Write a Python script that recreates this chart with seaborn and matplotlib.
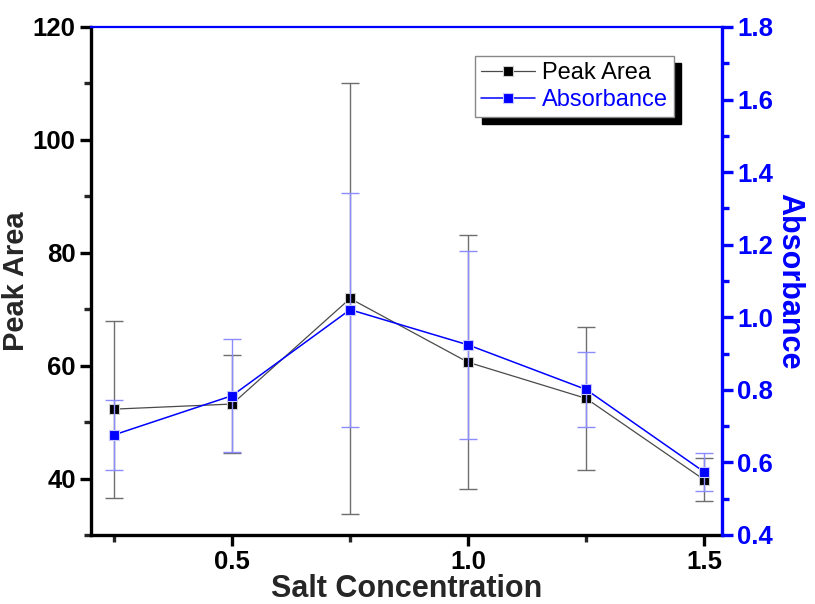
import matplotlib
matplotlib.use("Agg")
import matplotlib.pyplot as plt
import seaborn as sns
import pandas as pd
from matplotlib.ticker import MultipleLocator, FormatStrFormatter

# Salt concentration series
conc = [0.25, 0.5, 0.75, 1.0, 1.25, 1.5]
peak_area = [52.3, 53.2, 71.9, 60.6, 54.2, 39.8]
peak_area_err = [15.7, 8.7, 38.1, 22.5, 12.6, 3.8]
absorbance = [0.676, 0.784, 1.021, 0.924, 0.801, 0.574]
absorbance_err = [0.097, 0.156, 0.322, 0.260, 0.103, 0.053]

sns.set_style("ticks")
plt.rcParams["font.family"] = ["Liberation Sans", "DejaVu Sans"]

df = pd.DataFrame({"conc": conc, "area": peak_area, "abs": absorbance})

fig = plt.figure(figsize=(8.15, 6.04), dpi=100)
ax = fig.add_axes([91 / 815, 1 - 535 / 604, (722 - 91) / 815, (535 - 27) / 604])
ax2 = ax.twinx()

# Peak area on the left axis
ax.errorbar(conc, peak_area, yerr=peak_area_err, fmt="none", ecolor="#6e6e6e",
            elinewidth=1.0, capsize=6.5, capthick=1.0, zorder=1)
sns.lineplot(data=df, x="conc", y="area", ax=ax, color="#4a4a4a", linewidth=0.9,
             marker="s", markersize=6.6, markerfacecolor="black",
             markeredgecolor="#d0d0d0", markeredgewidth=0.8,
             label="Peak Area", sort=False, zorder=3)

# Absorbance on the right axis
ax2.errorbar(conc, absorbance, yerr=absorbance_err, fmt="none", ecolor="#8c8cff",
             elinewidth=1.0, capsize=6.5, capthick=1.0, zorder=1)
sns.lineplot(data=df, x="conc", y="abs", ax=ax2, color="blue", linewidth=1.1,
             marker="s", markersize=6.6, markerfacecolor="blue",
             markeredgecolor="#c8c8ff", markeredgewidth=0.8,
             label="Absorbance", sort=False, zorder=3)

ax.set_xlim(0.201, 1.538)
ax.set_ylim(30, 120)
ax2.set_ylim(0.4, 1.8)

ax.xaxis.set_major_locator(MultipleLocator(0.5))
ax.xaxis.set_minor_locator(MultipleLocator(0.25))
ax.xaxis.set_major_formatter(FormatStrFormatter("%.1f"))
ax.yaxis.set_minor_locator(MultipleLocator(10))
ax.set_yticks([40, 60, 80, 100, 120])
ax2.yaxis.set_major_locator(MultipleLocator(0.2))
ax2.yaxis.set_minor_locator(MultipleLocator(0.1))
ax2.yaxis.set_major_formatter(FormatStrFormatter("%.1f"))

tick_font = 18.5
ax.tick_params(axis="both", which="major", direction="out", length=8, width=2.4,
               labelsize=tick_font, pad=3, colors="black")
ax.tick_params(axis="both", which="minor", direction="out", length=5, width=2.4)
ax.tick_params(axis="x", top=False, which="both")
ax2.tick_params(axis="y", which="major", direction="out", length=8, width=2.4,
                labelsize=tick_font, pad=3, colors="blue")
ax2.tick_params(axis="y", which="minor", direction="out", length=5, width=2.4, colors="blue")
for lab in ax.get_xticklabels() + ax.get_yticklabels() + ax2.get_yticklabels():
    lab.set_fontweight("bold")

for side in ("left", "bottom"):
    ax.spines[side].set_linewidth(2.4)
    ax.spines[side].set_color("black")
ax.spines["top"].set_visible(False)
ax.spines["right"].set_visible(False)
ax2.spines["left"].set_visible(False)
ax2.spines["bottom"].set_visible(False)
ax2.spines["right"].set_linewidth(2.4)
ax2.spines["right"].set_color("blue")
ax2.spines["top"].set_linewidth(1.6)
ax2.spines["top"].set_color("blue")

ax.set_xlabel("Salt Concentration", fontsize=22, fontweight="bold", labelpad=0)
ax.set_ylabel("Peak Area", fontsize=21, fontweight="bold", labelpad=2)
ax2.set_ylabel("Absorbance", fontsize=22, fontweight="bold", color="blue",
               rotation=270, labelpad=22)

# Combined legend with a hard black drop shadow
h1, l1 = ax.get_legend_handles_labels()
h2, l2 = ax2.get_legend_handles_labels()
if ax.get_legend() is not None:
    ax.get_legend().remove()
if ax2.get_legend() is not None:
    ax2.get_legend().remove()
leg = ax2.legend(h1 + h2, l1 + l2, loc="upper right", bbox_to_anchor=(0.924, 0.943),
                 borderaxespad=0, fontsize=17, frameon=True, fancybox=False,
                 edgecolor="#888888", framealpha=1, handlelength=2.3, handletextpad=0.3,
                 borderpad=0.25, labelspacing=0.22,
                 shadow={"ox": 5, "oy": -5.4, "color": "black", "alpha": 1},
                 labelcolor=["black", "blue"])
leg.get_frame().set_linewidth(1.0)

fig.savefig("out.png", dpi=100)
